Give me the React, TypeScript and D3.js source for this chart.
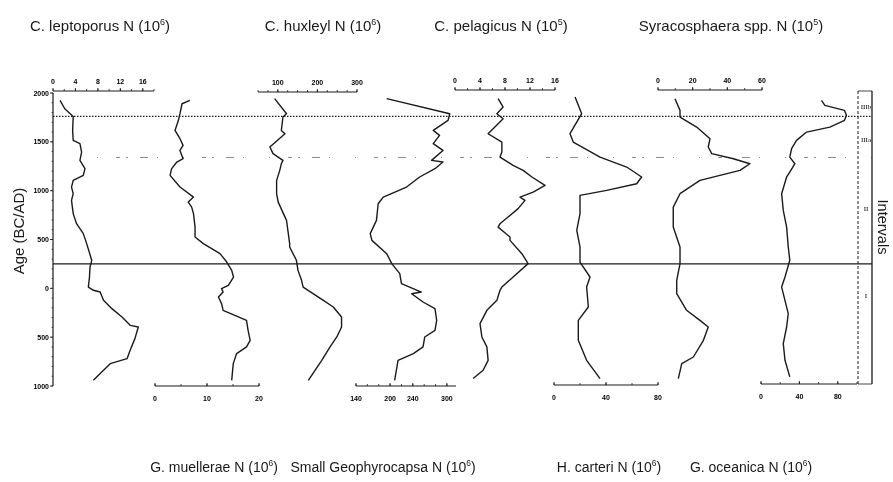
import React from 'react';
import * as d3 from 'd3';

// ---------- DATA ----------
const ageTicks = [2000, 1500, 1000, 500, 0, -500, -1000];

const leptoporusAge = [1924, 1839, 1760, 1617, 1515, 1481, 1395, 1310, 1225, 1157, 1105, 1037, 969, 901, 765, 662, 560, 458, 287, 218, 116, 13, -20, -38, -123, -208, -294, -379, -396, -515, -635, -720, -771, -839, -942];
const leptoporusN = [1.25, 2.1, 3.6, 3.5, 3.6, 4.8, 5.1, 4.8, 5.7, 5.4, 3.6, 3.3, 3.6, 3.3, 3.6, 4.2, 5.4, 6.0, 6.9, 6.6, 6.5, 6.3, 7.2, 8.4, 9.0, 10.5, 12.3, 13.75, 15.2, 14.6, 13.75, 13.2, 10.2, 9.0, 7.2];

const muelleraeAge = [1924, 1890, 1788, 1720, 1617, 1532, 1464, 1412, 1327, 1293, 1225, 1157, 1037, 934, 883, 832, 765, 627, 525, 458, 355, 269, 184, 116, 31, -3, -38, -89, -157, -225, -328, -430, -532, -600, -668, -771, -942];
const muelleraeN = [6.7, 5.2, 4.8, 4.5, 3.85, 4.8, 5.4, 4.8, 5.4, 4.2, 3.2, 2.9, 4.8, 7.4, 6.4, 7.05, 7.4, 7.7, 7.7, 9.3, 12.5, 13.8, 14.75, 15.1, 14.1, 12.8, 13.1, 12.2, 12.8, 13.1, 17.6, 17.9, 18.3, 17.6, 15.7, 15.05, 14.75];

const huxleyiAge = [1942, 1788, 1754, 1617, 1583, 1447, 1379, 1310, 1276, 1208, 1105, 969, 883, 696, 458, 423, 287, 184, 82, 13, -55, -123, -191, -294, -396, -498, -600, -737, -942];
const huxleyiN = [92, 122, 113, 109, 118, 80, 88, 113, 109, 105, 97, 97, 101, 122, 130, 130, 147, 151, 160, 164, 189, 215, 240, 261, 261, 249, 232, 211, 177];

const geophyAge = [1942, 1788, 1720, 1617, 1566, 1481, 1412, 1310, 1293, 1225, 1140, 1037, 934, 866, 696, 560, 491, 355, 253, 150, 48, -38, -55, -140, -208, -328, -430, -498, -600, -668, -737, -839, -942];
const geophyN = [194, 305, 302, 276, 287, 276, 293, 273, 293, 279, 252, 229, 188, 179, 176, 165, 168, 194, 203, 217, 220, 255, 238, 258, 279, 282, 279, 261, 258, 241, 214, 211, 208];

const pelagicusAge = [1942, 1856, 1788, 1737, 1635, 1583, 1498, 1395, 1344, 1259, 1208, 1140, 1054, 986, 934, 901, 816, 662, 627, 525, 491, 355, 253, 116, 13, -20, -123, -225, -361, -498, -600, -737, -839, -924];
const pelagicusN = [6.9, 7.7, 6.7, 7.7, 6.1, 5.3, 7.5, 7.5, 7.2, 9.3, 10.9, 12.3, 14.4, 12.5, 10.4, 11.2, 10.1, 7.2, 6.9, 8.8, 8.8, 10.7, 11.7, 9.3, 7.5, 7.2, 6.7, 5.1, 4.0, 4.3, 5.1, 5.3, 4.5, 2.9];

const carteriAge = [1958, 1788, 1583, 1498, 1344, 1242, 1140, 1071, 1003, 952, 765, 594, 423, 269, 116, 13, -191, -328, -532, -737, -924];
const carteriN = [16.2, 21.3, 12.3, 14.8, 35.4, 55.9, 67.4, 63.6, 40.5, 20, 20, 17.5, 20, 20, 27.7, 25.1, 26.4, 18.7, 18.7, 25.1, 35.4];

const syracoAge = [1942, 1822, 1754, 1651, 1532, 1447, 1379, 1327, 1276, 1208, 1105, 969, 832, 627, 423, 253, 82, -55, -225, -328, -396, -532, -703, -771, -924];
const syracoN = [9.8, 12.7, 12.7, 22.3, 30, 29, 31, 43.5, 53, 47.3, 24.2, 12.7, 8.8, 8.8, 12.7, 12.7, 10.8, 10.8, 16.5, 24.2, 29, 26.2, 20.4, 13.7, 11.7];

const oceanicaAge = [1924, 1873, 1822, 1771, 1720, 1651, 1600, 1515, 1430, 1344, 1276, 1191, 1140, 969, 798, 627, 423, 287, 116, 13, -55, -259, -396, -566, -737, -907];
const oceanicaN = [63, 66.5, 87, 89, 87, 71.7, 47.5, 37, 31.9, 30, 35.3, 30, 26.7, 21.5, 23.2, 26.7, 28.4, 30, 25, 21.5, 23.2, 28.4, 26.7, 23.2, 25, 30];

const leptoporusTicks = [0, 4, 8, 12, 16];
const huxleyiTicks = [100, 200, 300];
const pelagicusTicks = [0, 4, 8, 12, 16];
const syracoTicks = [0, 20, 40, 60];
const muelleraeTicks = [0, 10, 20];
const geophyTicks = [140, 200, 240, 300];
const carteriTicks = [0, 40, 80];
const oceanicaTicks = [0, 40, 80];

const boundaryAges = { solid: 250, dotted: 1760, dashDot: 1340 };
const intervalLabels = [
  { label: 'IIIb', age: 1865 },
  { label: 'IIIa', age: 1525 },
  { label: 'II', age: 815 },
  { label: 'I', age: -70 },
];

// ---------- LAYOUT ----------
const W = 893, H = 482;
const yAge = d3.scaleLinear().domain([-1000, 2000]).range([386, 93]);
const FONT = 'Liberation Sans, Arial, sans-serif';

type Panel = {
  title: string; sup: string; age: number[]; vals: number[];
  domain: [number, number]; range: [number, number]; ticks: number[]; minor: number[];
  pos: 'top' | 'bottom'; axisY: number; titleX: number;
};

const panels: Panel[] = [
  { title: 'C. leptoporus N (10', sup: '6', age: leptoporusAge, vals: leptoporusN, domain: [0, 18], range: [53, 154], ticks: leptoporusTicks, minor: d3.range(0, 19, 2), pos: 'top', axisY: 91, titleX: 100 },
  { title: 'C. huxleyl N (10', sup: '6', age: huxleyiAge, vals: huxleyiN, domain: [50, 300], range: [258, 357], ticks: huxleyiTicks, minor: d3.range(50, 301, 25), pos: 'top', axisY: 92, titleX: 323 },
  { title: 'C. pelagicus N (10', sup: '5', age: pelagicusAge, vals: pelagicusN, domain: [0, 16], range: [455, 555], ticks: pelagicusTicks, minor: d3.range(0, 17, 2), pos: 'top', axisY: 90, titleX: 501 },
  { title: 'Syracosphaera spp. N (10', sup: '5', age: syracoAge, vals: syracoN, domain: [0, 60], range: [658, 762], ticks: syracoTicks, minor: d3.range(0, 61, 10), pos: 'top', axisY: 90, titleX: 731 },
  { title: 'G. muellerae N (10', sup: '6', age: muelleraeAge, vals: muelleraeN, domain: [0, 20], range: [155, 259], ticks: muelleraeTicks, minor: d3.range(0, 21, 5), pos: 'bottom', axisY: 386, titleX: 214 },
  { title: 'Small Geophyrocapsa N (10', sup: '6', age: geophyAge, vals: geophyN, domain: [140, 316], range: [356, 456], ticks: geophyTicks, minor: d3.range(140, 317, 20), pos: 'bottom', axisY: 386, titleX: 383 },
  { title: 'H. carteri N (10', sup: '6', age: carteriAge, vals: carteriN, domain: [0, 80], range: [554, 658], ticks: carteriTicks, minor: d3.range(0, 81, 20), pos: 'bottom', axisY: 385, titleX: 609 },
  { title: 'G. oceanica N (10', sup: '6', age: oceanicaAge, vals: oceanicaN, domain: [0, 100], range: [761, 857], ticks: oceanicaTicks, minor: d3.range(0, 101, 20), pos: 'bottom', axisY: 384, titleX: 751 },
];

const ink = '#1a1a1a';

function HAxis({ p }: { p: Panel }) {
  const x = d3.scaleLinear().domain(p.domain).range(p.range);
  const y0 = p.axisY;
  return (
    <g>
      <line x1={p.range[0]} x2={p.range[1]} y1={y0} y2={y0} stroke={ink} strokeWidth={1.2} />
      {p.minor.map((t) => (
        <line key={'m' + t} x1={x(t)} x2={x(t)} y1={y0} y2={y0 - 2} stroke={ink} strokeWidth={0.8} />
      ))}
      {p.ticks.map((t) => (
        <g key={t}>
          <line x1={x(t)} x2={x(t)} y1={y0} y2={y0 - 3} stroke={ink} strokeWidth={0.9} />
          <text x={x(t)} y={p.pos === 'top' ? y0 - 7 : y0 + 15} textAnchor="middle"
            fontSize={7} fontWeight="bold" fontFamily={FONT} fill="#000">{t}</text>
        </g>
      ))}
    </g>
  );
}

function Curve({ p }: { p: Panel }) {
  const x = d3.scaleLinear().domain(p.domain).range(p.range);
  const pts: [number, number][] = p.age.map((a, i) => [x(p.vals[i]), yAge(a)]);
  const path = d3.line()(pts) || '';
  return <path d={path} fill="none" stroke={ink} strokeWidth={1.4} strokeLinejoin="round" />;
}

function Title({ text, sup, x, y, size }: { text: string; sup: string; x: number; y: number; size: number }) {
  return (
    <text x={x} y={y} textAnchor="middle" fontSize={size} fontFamily={FONT} fill={ink}>
      {text}
      <tspan fontSize={size * 0.6} dy={-6}>{sup}</tspan>
      <tspan dy={6}>)</tspan>
    </text>
  );
}

export default function App() {
  const xLeft = 53, xRight = 872, xDash = 858;
  return (
    <svg width={W} height={H} style={{ position: 'absolute', left: 0, top: 0, background: '#fff', willChange: 'transform' }}>
      <rect width={W} height={H} fill="#fff" />
      {/* titles */}
      {panels.filter(p => p.pos === 'top').map((p) => (
        <Title key={p.title} text={p.title} sup={p.sup} x={p.titleX} y={31} size={15} />
      ))}
      {panels.filter(p => p.pos === 'bottom').map((p) => (
        <Title key={p.title} text={p.title} sup={p.sup} x={p.titleX} y={472} size={14} />
      ))}

      {/* left age axis */}
      <line x1={xLeft} x2={xLeft} y1={yAge(2000)} y2={yAge(-1000)} stroke={ink} strokeWidth={1.2} />
      {d3.range(-1000, 2001, 100).map((t) => (
        <line key={'am' + t} x1={xLeft} x2={xLeft - 1.5} y1={yAge(t)} y2={yAge(t)} stroke={ink} strokeWidth={0.7} />
      ))}
      {ageTicks.map((t) => (
        <g key={'a' + t}>
          <line x1={xLeft} x2={xLeft - 3} y1={yAge(t)} y2={yAge(t)} stroke={ink} strokeWidth={0.9} />
          <text x={xLeft - 4} y={yAge(t) + 2.5} textAnchor="end" fontSize={7} fontWeight="bold"
            fontFamily={FONT} fill="#000">{Math.abs(t)}</text>
        </g>
      ))}
      <text transform="translate(24,231) rotate(-90)" textAnchor="middle" fontSize={15}
        fontFamily={FONT} fill={ink}>Age (BC/AD)</text>

      {/* boundary lines */}
      <line x1={xLeft} x2={xRight} y1={yAge(boundaryAges.solid)} y2={yAge(boundaryAges.solid)} stroke={ink} strokeWidth={1.3} />
      <line x1={xLeft} x2={xRight} y1={yAge(boundaryAges.dotted)} y2={yAge(boundaryAges.dotted)} stroke={ink} strokeWidth={1.3} strokeDasharray="1.5,1.5" />
      <line x1={97} x2={880} y1={yAge(boundaryAges.dashDot)} y2={yAge(boundaryAges.dashDot)} stroke="#888" strokeWidth={1} strokeDasharray="1,18,4,6,2,12,8,9,1,25" />

      {/* axes + curves */}
      {panels.map((p) => (
        <g key={'p' + p.title}>
          <HAxis p={p} />
          <Curve p={p} />
        </g>
      ))}

      {/* intervals frame */}
      <line x1={xDash} x2={xDash} y1={yAge(2000) - 2} y2={yAge(-1000) - 2} stroke={ink} strokeWidth={1} strokeDasharray="3,2" />
      <line x1={xRight} x2={xRight} y1={yAge(2000) - 2} y2={yAge(-1000) - 2} stroke={ink} strokeWidth={1.3} />
      <line x1={xDash} x2={xRight} y1={yAge(2000) - 2} y2={yAge(2000) - 2} stroke={ink} strokeWidth={0.8} />
      <line x1={xDash} x2={xRight} y1={yAge(-1000) - 2} y2={yAge(-1000) - 2} stroke={ink} strokeWidth={0.8} />
      {intervalLabels.map((l) => (
        <text key={l.label} x={866} y={yAge(l.age) + 2.5} textAnchor="middle" fontSize={7}
          fontFamily="Liberation Serif, serif" fill="#000">{l.label}</text>
      ))}
      <text transform="translate(878,227) rotate(90)" textAnchor="middle" fontSize={14.5}
        fontFamily={FONT} fill={ink}>Intervals</text>
    </svg>
  );
}
